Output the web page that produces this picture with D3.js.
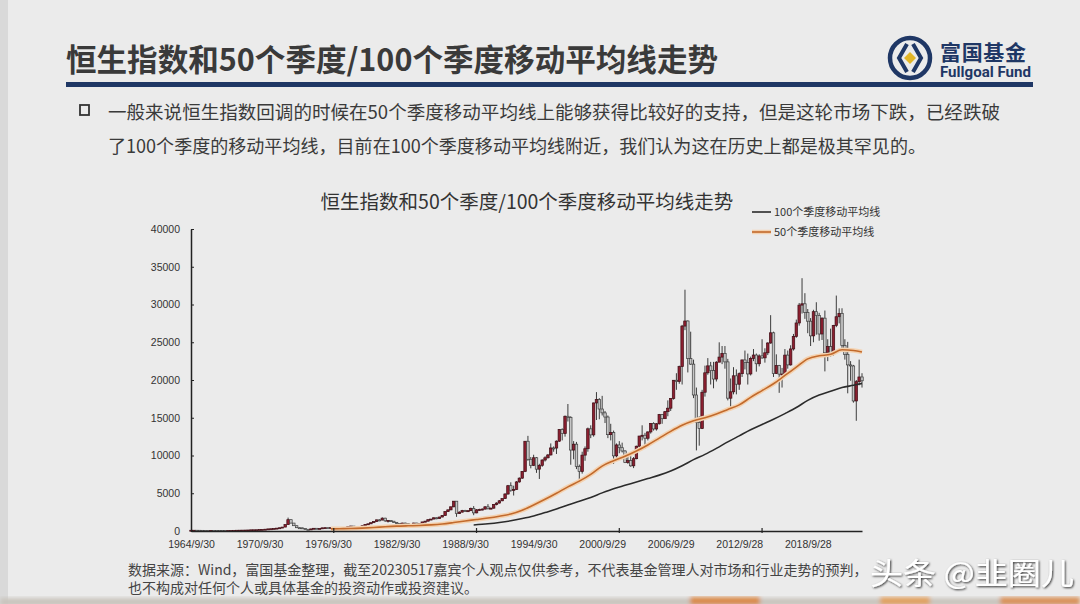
<!DOCTYPE html>
<html>
<head>
<meta charset="utf-8">
<script src="https://cdn.jsdelivr.net/npm/d3@7"></script>
<style>
  body { margin: 0; background: #ebebeb; }
  svg { display: block; font-family: "Noto Sans CJK SC", "Noto Sans", sans-serif; }
</style>
</head>
<body>
<script>
// Hang Seng index, quarterly candles, first quarter = 1964Q3, last = 2023Q2
var opens = [
  100, 100,                    // 1964
  101, 95, 88, 85,             // 1965
  82, 80, 82, 80,
  79, 78, 68, 62,
  66, 75, 88, 100,
  107, 115, 125, 135,
  155, 160, 165, 190,          // 1970
  212, 240, 280, 300,
  341, 380, 430, 520,
  843, 1500, 1050, 700,
  433, 420, 320, 230,
  171, 280, 360, 330,          // 1975
  350, 420, 440, 430,
  447, 420, 410, 400,
  404, 440, 600, 650,
  495, 540, 600, 700,
  879, 950, 1100, 1250,        // 1980
  1474, 1450, 1700, 1350,
  1405, 1300, 1150, 1000,
  783, 1050, 1000, 870,
  875, 1050, 900, 1000,
  1200, 1300, 1500, 1580,      // 1985
  1752, 1650, 1850, 2050,
  2568, 2800, 3200, 3950,
  2303, 2500, 2700, 2600,
  2687, 3000, 2400, 2800,
  2837, 2900, 3200, 2950,      // 1990
  3025, 3500, 3700, 4000,
  4297, 4900, 6000, 5400,
  5512, 6500, 7000, 7900,
  11888, 9500, 8700, 9700,
  8191, 8700, 9400, 9700,      // 1995
  10073, 11000, 10990, 11900,
  13451, 12900, 15196, 15050,
  10722, 11500, 8543, 7883,
  10048, 10900, 13532, 12733,
  16962, 17406, 16155, 15648,  // 2000
  15096, 12761, 13043, 9951,
  11397, 11033, 10599, 9072,
  9321, 8634, 9577, 11229,
  12576, 12681, 12286, 13120,
  14230, 13517, 14201, 15429,  // 2005
  14876, 15805, 16267, 17543,
  19965, 19801, 21773, 27143,
  27813, 22849, 22102, 18016,
  14387, 13576, 18379, 20955,
  21872, 21239, 20128, 22358,  // 2010
  23035, 23527, 22398, 17592,
  18434, 20555, 19441, 20840,
  22656, 22299, 20803, 22859,
  23306, 22151, 23190, 22932,
  23605, 24901, 26250, 20846,  // 2015
  21914, 20777, 20794, 23297,
  22001, 24112, 25765, 27554,
  29919, 30093, 28955, 27789,
  25846, 29051, 28543, 26092,
  28190, 23603, 24427, 23459,  // 2020
  27231, 28378, 28828, 24576,
  23398, 21997, 21860, 17223,
  19781, 20400                 // 2023
];
var highs = [
  102, 103,
  102, 96, 90, 87,
  84, 84, 83, 81,
  80, 79, 69, 67,
  76, 89, 101, 108,
  117, 127, 137, 157,
  163, 168, 192, 214,
  245, 285, 305, 345,
  385, 435, 525, 850,
  1775, 1500, 1060, 710,
  470, 430, 330, 240,
  290, 380, 370, 360,
  430, 460, 450, 460,
  450, 430, 420, 410,
  450, 620, 707, 660,
  560, 620, 720, 890,
  980, 1120, 1280, 1500,
  1550, 1810, 1750, 1450,
  1420, 1320, 1180, 1020,
  1100, 1100, 1020, 900,
  1100, 1080, 1020, 1220,
  1350, 1520, 1600, 1780,
  1800, 1880, 2100, 2600,
  2850, 3250, 3968, 3950,
  2600, 2800, 2800, 2750,
  3100, 3300, 2900, 2950,
  3000, 3300, 3560, 3100,
  3550, 3800, 4100, 4300,
  5000, 6100, 6450, 6000,
  6600, 7100, 7950, 11900,
  12600, 9800, 10100, 9800,
  8900, 9500, 9900, 10200,
  11600, 11200, 12000, 13500,
  13600, 15300, 16820, 15200,
  11900, 11800, 8800, 10500,
  11200, 13700, 14000, 17000,
  18397, 17600, 17900, 15900,
  15300, 14200, 13300, 11600,
  11900, 11700, 10700, 10300,
  9900, 9800, 11300, 12600,
  14000, 13000, 13200, 14300,
  14400, 14300, 15500, 15500,
  15900, 17300, 17600, 20000,
  20900, 21900, 27300, 31958,
  27900, 26400, 22700, 19000,
  15200, 18700, 21900, 22900,
  22400, 22400, 22500, 24990,
  24500, 24500, 22800, 20200,
  21700, 21400, 21000, 22700,
  23900, 23500, 23100, 24100,
  23500, 23400, 25400, 24200,
  25000, 28588, 26400, 23400,
  22000, 21600, 24100, 23900,
  24600, 26100, 28000, 30200,
  33484, 31500, 29400, 28200,
  29300, 30300, 28900, 28300,
  29200, 25400, 26800, 27300,
  31183, 29500, 29500, 25400,
  25050, 22500, 22000, 20000,
  22700, 20900
];
var lows = [
  98, 99,
  94, 86, 84, 80,
  78, 79, 78, 77,
  76, 65, 58, 60,
  65, 74, 87, 99,
  105, 113, 123, 133,
  152, 158, 162, 188,
  208, 236, 275, 295,
  335, 375, 425, 515,
  830, 1000, 680, 400,
  400, 300, 210, 150,
  165, 270, 320, 320,
  340, 410, 420, 420,
  400, 395, 385, 390,
  395, 430, 590, 490,
  480, 530, 590, 690,
  860, 930, 1080, 1230,
  1300, 1420, 1200, 1120,
  1200, 1100, 980, 676,
  760, 950, 690, 820,
  860, 880, 800, 980,
  1180, 1280, 1460, 1560,
  1560, 1620, 1820, 2020,
  2540, 2750, 3150, 1876,
  2250, 2450, 2550, 2550,
  2650, 2093, 2350, 2700,
  2750, 2850, 2850, 2900,
  2980, 3400, 3650, 3950,
  4250, 4800, 5200, 4700,
  5450, 6400, 6900, 7800,
  9300, 8300, 8600, 7700,
  6890, 8500, 9200, 9600,
  10000, 10500, 10200, 11800,
  12000, 12500, 14500, 8775,
  9500, 8200, 6544, 7600,
  9300, 10500, 12300, 12500,
  14700, 14800, 15300, 14300,
  12300, 12000, 8894, 9700,
  10300, 10400, 9000, 8900,
  8500, 8331, 9500, 11100,
  12000, 10900, 12000, 12900,
  13300, 13300, 14100, 14200,
  14900, 15200, 15900, 17400,
  18700, 19500, 19400, 26600,
  21000, 22000, 17600, 10676,
  11300, 13500, 17800, 20700,
  19400, 18900, 19800, 22600,
  22100, 21500, 17300, 16200,
  18100, 18100, 18700, 20400,
  21400, 19400, 20600, 22500,
  21100, 21800, 22800, 22300,
  23300, 24800, 20400, 20800,
  18300, 19000, 20600, 21500,
  21900, 23900, 25600, 27200,
  28800, 28100, 26200, 24500,
  25000, 26000, 25200, 25300,
  21139, 22500, 23100, 23200,
  27000, 27500, 23900, 22700,
  18235, 19900, 17000, 14597,
  19300, 19000
];
var closes = [
  100, 101,
  95, 88, 85, 82,
  80, 82, 80, 79,
  78, 68, 62, 66,
  75, 88, 100, 107,
  115, 125, 135, 155,
  160, 165, 190, 212,
  240, 280, 300, 341,
  380, 430, 520, 843,
  1500, 1050, 700, 433,
  420, 320, 230, 171,
  280, 360, 330, 350,
  420, 440, 430, 447,
  420, 410, 400, 404,
  440, 600, 650, 495,
  540, 600, 700, 879,
  950, 1100, 1250, 1474,
  1450, 1700, 1350, 1405,
  1300, 1150, 1000, 783,
  1050, 1000, 870, 875,
  1050, 900, 1000, 1200,
  1300, 1500, 1580, 1752,
  1650, 1850, 2050, 2568,
  2800, 3200, 3950, 2303,
  2500, 2700, 2600, 2687,
  3000, 2400, 2800, 2837,
  2900, 3200, 2950, 3025,
  3500, 3700, 4000, 4297,
  4900, 6000, 5400, 5512,
  6500, 7000, 7900, 11888,
  9500, 8700, 9700, 8191,
  8700, 9400, 9700, 10073,
  11000, 10990, 11900, 13451,
  12900, 15196, 15050, 10722,
  11500, 8543, 7883, 10048,
  10900, 13532, 12733, 16962,
  17406, 16155, 15648, 15096,
  12761, 13043, 9951, 11397,
  11033, 10599, 9072, 9321,
  8634, 9577, 11229, 12576,
  12681, 12286, 13120, 14230,
  13517, 14201, 15429, 14876,
  15805, 16267, 17543, 19965,
  19801, 21773, 27143, 27813,
  22849, 22102, 18016, 14387,
  13576, 18379, 20955, 21872,
  21239, 20128, 22358, 23035,
  23527, 22398, 17592, 18434,
  20555, 19441, 20840, 22656,
  22299, 20803, 22859, 23306,
  22151, 23190, 22932, 23605,
  24901, 26250, 20846, 21914,
  20777, 20794, 23297, 22001,
  24112, 25765, 27554, 29919,
  30093, 28955, 27789, 25846,
  29051, 28543, 26092, 28190,
  23603, 24427, 23459, 27231,
  28378, 28828, 24576, 23398,
  21997, 21860, 17223, 19781,
  20400, 19900
];

// moving averages (one point a year)
var ma50Quarters = ["1976Q4","1977Q3","1978Q3","1979Q3","1980Q3","1981Q3","1982Q3","1983Q3","1984Q3",
  "1985Q3","1986Q3","1987Q3","1988Q3","1989Q3","1990Q3","1991Q3","1992Q3","1993Q3","1994Q3","1995Q3",
  "1996Q3","1997Q3","1998Q3","1999Q3","2000Q3","2001Q3","2002Q3","2003Q3","2004Q3","2005Q3","2006Q3",
  "2007Q3","2008Q3","2009Q3","2010Q3","2011Q3","2012Q3","2013Q3","2014Q3","2015Q3","2016Q3","2017Q3",
  "2018Q3","2019Q3","2020Q3","2021Q3","2022Q3","2023Q2"];
var ma50Values = [285, 305, 330, 385, 460, 560, 640, 690, 730,
  810, 930, 1120, 1330, 1520, 1720, 1960, 2250, 2750, 3450, 4200,
  5000, 5850, 6600, 7500, 8600, 9300, 9900, 10600, 11400, 12300, 13200,
  14000, 14600, 15000, 15500, 16100, 16700, 17700, 18600, 19500, 20600, 21700,
  22800, 23200, 23400, 24000, 23900, 23700];

var ma100Quarters = ["1989Q2","1990Q3","1991Q3","1992Q3","1993Q3","1994Q3","1995Q3","1996Q3","1997Q3",
  "1998Q3","1999Q3","2000Q3","2001Q3","2002Q3","2003Q3","2004Q3","2005Q3","2006Q3","2007Q3","2008Q3",
  "2009Q3","2010Q3","2011Q3","2012Q3","2013Q3","2014Q3","2015Q3","2016Q3","2017Q3","2018Q3","2019Q3",
  "2020Q3","2021Q3","2022Q3","2023Q2"];
var ma100Values = [800, 950, 1120, 1350, 1650, 2000, 2450, 2900, 3450,
  3950, 4450, 5050, 5600, 6050, 6500, 6950, 7400, 7950, 8650, 9450,
  10150, 10950, 11800, 12600, 13400, 14100, 14800, 15550, 16350, 17300, 18000,
  18500, 19000, 19300, 19550];

var tickQuarters = ["1964Q3","1970Q3","1976Q3","1982Q3","1988Q3","1994Q3","2000Q3","2006Q3","2012Q3","2018Q3"];
var tickLabels = ["1964/9/30","1970/9/30","1976/9/30","1982/9/30","1988/9/30","1994/9/30","2000/9/29","2006/9/29","2012/9/28","2018/9/28"];
var yTicks = [0, 5000, 10000, 15000, 20000, 25000, 30000, 35000, 40000];

// quarter categories
var quarters = [];
for (var yr = 1964; yr <= 2023; yr++) {
  for (var q = 1; q <= 4; q++) {
    if ((yr == 1964 && q < 3) || (yr == 2023 && q > 2)) continue;
    quarters.push(yr + "Q" + q);
  }
}
var candles = quarters.map(function(d, i) {
  return {q: d, o: opens[i], h: highs[i], l: lows[i], c: closes[i]};
});

var W = 1080, H = 604;
var svg = d3.select("body").append("svg")
    .attr("width", W)
    .attr("height", H);

var defs = svg.append("defs");
var sh = defs.append("filter").attr("id", "shadow").attr("x", "-10%").attr("y", "-20%").attr("width", "120%").attr("height", "140%");
sh.append("feDropShadow").attr("dx", 1).attr("dy", 1).attr("stdDeviation", 1.2).attr("flood-color", "#000").attr("flood-opacity", 0.8);
defs.append("filter").attr("id", "blur").append("feGaussianBlur").attr("stdDeviation", 2);

// slide background
svg.append("rect").attr("width", W).attr("height", H).attr("fill", "#ebebeb");
svg.append("rect").attr("width", 8).attr("height", H).attr("fill", "#d9d9d9");

// header
svg.append("text")
    .attr("x", 66).attr("y", 71)
    .attr("font-size", 31).attr("font-weight", "bold")
    .attr("fill", "#3a3a3a")
    .attr("textLength", 652).attr("lengthAdjust", "spacingAndGlyphs")
    .text("恒生指数和50个季度/100个季度移动平均线走势");
svg.append("rect").attr("x", 66).attr("y", 82).attr("width", 967).attr("height", 5).attr("fill", "#1f3765");

// logo
var logo = svg.append("g").attr("transform", "translate(910,58)");
logo.append("circle").attr("r", 20).attr("fill", "none").attr("stroke", "#1f3765").attr("stroke-width", 4.5);
logo.append("path").attr("d", "M-3,-14 L-11,0 L-3,14").attr("fill", "none").attr("stroke", "#1f3765").attr("stroke-width", 4);
logo.append("path").attr("d", "M3,-14 L11,0 L3,14").attr("fill", "none").attr("stroke", "#1f3765").attr("stroke-width", 4);
logo.append("path").attr("d", "M0,-6 L6,0 L0,6 L-6,0 Z").attr("fill", "#e2b526");
svg.append("text").attr("x", 940).attr("y", 60).attr("font-size", 21).attr("font-weight", "bold")
    .attr("fill", "#1f3765").attr("textLength", 86).text("富国基金");
svg.append("text").attr("x", 940).attr("y", 77).attr("font-size", 14).attr("font-weight", "bold")
    .attr("font-family", "Roboto, sans-serif")
    .attr("fill", "#1f3765").attr("textLength", 91).attr("lengthAdjust", "spacingAndGlyphs").text("Fullgoal Fund");

// bullet text
svg.append("rect").attr("x", 80).attr("y", 105).attr("width", 9).attr("height", 10)
    .attr("fill", "none").attr("stroke", "#333").attr("stroke-width", 1.8);
svg.append("text").attr("x", 108).attr("y", 119).attr("font-size", 18.5).attr("fill", "#3a3a3a")
    .attr("textLength", 892).attr("lengthAdjust", "spacingAndGlyphs")
    .text("一般来说恒生指数回调的时候在50个季度移动平均线上能够获得比较好的支持，但是这轮市场下跌，已经跌破");
svg.append("text").attr("x", 108).attr("y", 153).attr("font-size", 18.5).attr("fill", "#3a3a3a")
    .attr("textLength", 818).attr("lengthAdjust", "spacingAndGlyphs")
    .text("了100个季度的移动平均线，目前在100个季度移动平均线附近，我们认为这在历史上都是极其罕见的。");

// chart
var x = d3.scalePoint().domain(quarters).range([191, 862]);
var y = d3.scaleLinear().domain([0, 40000]).range([531, 229]);

svg.append("text").attr("x", 527).attr("y", 209).attr("text-anchor", "middle")
    .attr("font-size", 19.5).attr("fill", "#333")
    .text("恒生指数和50个季度/100个季度移动平均线走势");

// candles
var cw = 2.5;
var cg = svg.append("g");
cg.selectAll(".wick")
    .data(candles)
  .enter().append("line")
    .attr("class", "wick")
    .attr("x1", function(d) { return x(d.q); })
    .attr("x2", function(d) { return x(d.q); })
    .attr("y1", function(d) { return y(d.h); })
    .attr("y2", function(d) { return y(d.l); })
    .attr("stroke", "#3c3c3c")
    .attr("stroke-width", 1);
cg.selectAll(".body")
    .data(candles)
  .enter().append("rect")
    .attr("class", "body")
    .attr("x", function(d) { return x(d.q) - cw / 2; })
    .attr("width", cw)
    .attr("y", function(d) { return y(Math.max(d.o, d.c)); })
    .attr("height", function(d) { return Math.max(1, Math.abs(y(d.o) - y(d.c))); })
    .attr("fill", function(d) { return d.c >= d.o ? "#8c1f30" : "#c6c6c6"; })
    .attr("stroke", function(d) { return d.c >= d.o ? "#3e0d14" : "#3e3e3e"; })
    .attr("stroke-width", 0.7);

// moving averages
var line = d3.line()
    .x(function(d) { return x(d[0]); })
    .y(function(d) { return y(d[1]); })
    .curve(d3.curveMonotoneX);
var ma50 = d3.zip(ma50Quarters, ma50Values);
var ma100 = d3.zip(ma100Quarters, ma100Values);
svg.append("path").datum(ma50).attr("d", line)
    .attr("fill", "none").attr("stroke", "#f4d2b0").attr("stroke-width", 4.5);
svg.append("path").datum(ma50).attr("d", line)
    .attr("fill", "none").attr("stroke", "#c26a2c").attr("stroke-width", 1.6);
svg.append("path").datum(ma100).attr("d", line)
    .attr("fill", "none").attr("stroke", "#2b2b2b").attr("stroke-width", 1.6);

// axes
var yAxis = svg.append("g")
    .attr("transform", "translate(191,0)")
    .call(d3.axisLeft(y).tickValues(yTicks).tickSizeInner(-3).tickSizeOuter(0).tickPadding(11).tickFormat(d3.format("d")));
yAxis.select(".domain").attr("stroke", "#222").attr("stroke-width", 1.5);
yAxis.selectAll("line").attr("stroke", "#222");
yAxis.selectAll("text").attr("font-size", 10.5).attr("font-family", "'Liberation Sans', sans-serif").attr("fill", "#333");

var xAxis = svg.append("g")
    .attr("transform", "translate(0,531)")
    .call(d3.axisBottom(x).tickValues(tickQuarters).tickSize(0).tickPadding(10)
      .tickFormat(function(d, i) { return tickLabels[i]; }));
xAxis.select(".domain").attr("stroke", "#222").attr("stroke-width", 1.5);
xAxis.selectAll("text").attr("font-size", 10.5).attr("font-family", "'Liberation Sans', sans-serif").attr("fill", "#333");
// small marks every 50 quarters
xAxis.selectAll(".mk")
    .data(quarters.filter(function(d, i) { return i > 0 && i % 50 == 0; }))
  .enter().append("line")
    .attr("x1", function(d) { return x(d); }).attr("x2", function(d) { return x(d); })
    .attr("y1", -3).attr("y2", 2)
    .attr("stroke", "#222").attr("stroke-width", 1.2);

// legend
var lg = svg.append("g");
lg.append("line").attr("x1", 752).attr("x2", 771).attr("y1", 212).attr("y2", 212).attr("stroke", "#2b2b2b").attr("stroke-width", 1.6);
lg.append("text").attr("x", 774).attr("y", 216).attr("font-size", 11).attr("fill", "#333").text("100个季度移动平均线");
lg.append("line").attr("x1", 752).attr("x2", 771).attr("y1", 232).attr("y2", 232).attr("stroke", "#f4d2b0").attr("stroke-width", 4.5);
lg.append("line").attr("x1", 752).attr("x2", 771).attr("y1", 232).attr("y2", 232).attr("stroke", "#c26a2c").attr("stroke-width", 1.6);
lg.append("text").attr("x", 774).attr("y", 236).attr("font-size", 11).attr("fill", "#333").text("50个季度移动平均线");

// footnote, wrapped so the watermark does not sit on it
svg.append("text").attr("x", 128).attr("y", 575).attr("font-size", 14).attr("fill", "#444")
    .text("数据来源：Wind，富国基金整理，截至20230517嘉宾个人观点仅供参考，不代表基金管理人对市场和行业走势的预判，");
svg.append("text").attr("x", 128).attr("y", 593).attr("font-size", 14).attr("fill", "#444")
    .text("也不构成对任何个人或具体基金的投资动作或投资建议。");

// bottom photo strip
var strip = svg.append("g").attr("filter", "url(#blur)");
strip.append("rect").attr("x", 0).attr("y", 598).attr("width", W).attr("height", 8).attr("fill", "#c9c4bd");
strip.append("rect").attr("x", 690).attr("y", 597).attr("width", 70).attr("height", 8).attr("fill", "#d98a4a");
strip.append("rect").attr("x", 880).attr("y", 597).attr("width", 50).attr("height", 8).attr("fill", "#e0a060");
strip.append("rect").attr("x", 1000).attr("y", 597).attr("width", 80).attr("height", 8).attr("fill", "#d9925a");

// watermark
svg.append("text").attr("x", 870).attr("y", 584).attr("font-size", 30).attr("fill", "#fff")
    .attr("filter", "url(#shadow)")
    .attr("textLength", 204).attr("lengthAdjust", "spacingAndGlyphs")
    .text("头条 @韭圈儿");
</script>
</body>
</html>
